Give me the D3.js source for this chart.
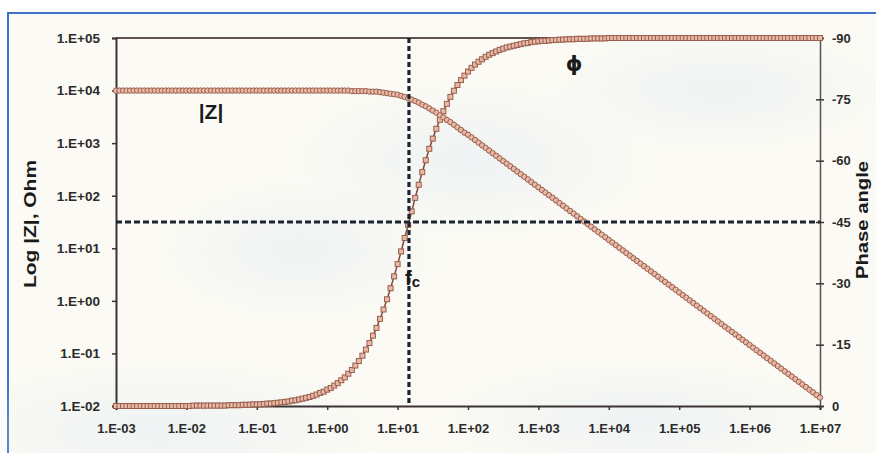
<!DOCTYPE html>
<html>
<head>
<meta charset="utf-8">
<script src="https://cdn.jsdelivr.net/npm/d3@7"></script>
<style>
  body { margin: 0; background: #ffffff; }
  svg { display: block; font-family: "Liberation Sans", Arial, sans-serif; }
  .axis text { font-weight: bold; fill: #2b2b2b; }
</style>
</head>
<body>
<div id="container"></div>
<script>
/* CONSTANTS AND GLOBALS */
const width = 876;
const height = 453;
const margin = { top: 38, right: 56, bottom: 47, left: 116 };

// frequency grid, log10(Hz), 20 points per decade
const logFreq = [
  -3.00,-2.95,-2.90,-2.85,-2.80,-2.75,-2.70,-2.65,-2.60,-2.55,
  -2.50,-2.45,-2.40,-2.35,-2.30,-2.25,-2.20,-2.15,-2.10,-2.05,
  -2.00,-1.95,-1.90,-1.85,-1.80,-1.75,-1.70,-1.65,-1.60,-1.55,
  -1.50,-1.45,-1.40,-1.35,-1.30,-1.25,-1.20,-1.15,-1.10,-1.05,
  -1.00,-0.95,-0.90,-0.85,-0.80,-0.75,-0.70,-0.65,-0.60,-0.55,
  -0.50,-0.45,-0.40,-0.35,-0.30,-0.25,-0.20,-0.15,-0.10,-0.05,
  0.00,0.05,0.10,0.15,0.20,0.25,0.30,0.35,0.40,0.45,0.50,0.55,0.60,0.65,0.70,0.75,0.80,0.85,0.90,0.95,
  1.00,1.05,1.10,1.15,1.20,1.25,1.30,1.35,1.40,1.45,1.50,1.55,1.60,1.65,1.70,1.75,1.80,1.85,1.90,1.95,
  2.00,2.05,2.10,2.15,2.20,2.25,2.30,2.35,2.40,2.45,2.50,2.55,2.60,2.65,2.70,2.75,2.80,2.85,2.90,2.95,
  3.00,3.05,3.10,3.15,3.20,3.25,3.30,3.35,3.40,3.45,3.50,3.55,3.60,3.65,3.70,3.75,3.80,3.85,3.90,3.95,
  4.00,4.05,4.10,4.15,4.20,4.25,4.30,4.35,4.40,4.45,4.50,4.55,4.60,4.65,4.70,4.75,4.80,4.85,4.90,4.95,
  5.00,5.05,5.10,5.15,5.20,5.25,5.30,5.35,5.40,5.45,5.50,5.55,5.60,5.65,5.70,5.75,5.80,5.85,5.90,5.95,
  6.00,6.05,6.10,6.15,6.20,6.25,6.30,6.35,6.40,6.45,6.50,6.55,6.60,6.65,6.70,6.75,6.80,6.85,6.90,6.95,
  7.00
];

// |Z|, log10(Ohm)
const logZ = [
  4.00,4.00,4.00,4.00,4.00,4.00,4.00,4.00,4.00,4.00,
  4.00,4.00,4.00,4.00,4.00,4.00,4.00,4.00,4.00,4.00,
  4.00,4.00,4.00,4.00,4.00,4.00,4.00,4.00,4.00,4.00,
  4.00,4.00,4.00,4.00,4.00,4.00,4.00,4.00,4.00,4.00,
  4.00,4.00,4.00,4.00,4.00,4.00,4.00,4.00,4.00,4.00,
  4.00,4.00,4.00,4.00,4.00,4.00,4.00,4.00,4.00,4.00,
  4.00,4.00,4.00,4.00,4.00,4.00,4.00,3.99,3.99,3.99,3.99,3.99,3.98,3.98,3.98,3.97,3.96,3.95,3.94,3.93,
  3.92,3.90,3.88,3.85,3.83,3.80,3.77,3.73,3.70,3.66,3.62,3.58,3.53,3.49,3.44,3.40,3.35,3.30,3.25,3.20,
  3.16,3.11,3.06,3.01,2.96,2.91,2.86,2.81,2.76,2.71,2.66,2.61,2.56,2.51,2.46,2.41,2.36,2.31,2.26,2.21,
  2.16,2.11,2.06,2.01,1.96,1.91,1.86,1.81,1.76,1.71,1.66,1.61,1.56,1.51,1.46,1.41,1.36,1.31,1.26,1.21,
  1.16,1.11,1.06,1.01,0.96,0.91,0.86,0.81,0.76,0.71,0.66,0.61,0.56,0.51,0.46,0.41,0.36,0.31,0.26,0.21,
  0.16,0.11,0.06,0.01,-0.04,-0.09,-0.14,-0.19,-0.24,-0.29,-0.34,-0.39,-0.44,-0.49,-0.54,-0.59,-0.64,-0.69,-0.74,-0.79,
  -0.84,-0.89,-0.94,-0.99,-1.04,-1.09,-1.14,-1.19,-1.24,-1.29,-1.34,-1.39,-1.44,-1.49,-1.54,-1.59,-1.64,-1.69,-1.74,-1.79,
  -1.84
];

// phase angle, degrees
const phaseDeg = [
  0,0,0,0,0,0,0,0,0,0,
  0,0,0,0,0,0,0,0,0,0,
  0,0,-0.1,-0.1,-0.1,-0.1,-0.1,-0.1,-0.1,-0.1,
  -0.1,-0.1,-0.2,-0.2,-0.2,-0.2,-0.3,-0.3,-0.3,-0.4,
  -0.4,-0.4,-0.5,-0.6,-0.6,-0.7,-0.8,-0.9,-1.0,-1.1,
  -1.3,-1.4,-1.6,-1.8,-2.0,-2.2,-2.5,-2.8,-3.2,-3.5,
  -4.0,-4.4,-5.0,-5.6,-6.3,-7.0,-7.9,-8.8,-9.9,-11.0,-12.3,-13.8,-15.4,-17.2,-19.1,-21.3,-23.6,-26.1,-28.8,-31.7,
  -34.7,-37.8,-41.1,-44.3,-47.6,-50.9,-54.1,-57.2,-60.1,-62.9,-65.4,-67.8,-70.0,-72.1,-73.9,-75.6,-77.1,-78.5,-79.7,-80.8,
  -81.8,-82.7,-83.5,-84.2,-84.8,-85.4,-85.9,-86.3,-86.7,-87.1,-87.4,-87.7,-87.9,-88.1,-88.3,-88.5,-88.7,-88.8,-89.0,-89.1,
  -89.2,-89.3,-89.3,-89.4,-89.5,-89.5,-89.6,-89.6,-89.7,-89.7,-89.7,-89.8,-89.8,-89.8,-89.8,-89.9,-89.9,-89.9,-89.9,-89.9,
  -90,-90,-90,-90,-90,-90,-90,-90,-90,-90,-90,-90,-90,-90,-90,-90,-90,-90,-90,-90,
  -90,-90,-90,-90,-90,-90,-90,-90,-90,-90,-90,-90,-90,-90,-90,-90,-90,-90,-90,-90,
  -90,-90,-90,-90,-90,-90,-90,-90,-90,-90,-90,-90,-90,-90,-90,-90,-90,-90,-90,-90,
  -90
];

// axis ticks
const freqTicks = [1e-3, 1e-2, 1e-1, 1e0, 1e1, 1e2, 1e3, 1e4, 1e5, 1e6, 1e7];
const zTicks = [1e-2, 1e-1, 1e0, 1e1, 1e2, 1e3, 1e4, 1e5];
const phaseTicks = [0, -15, -30, -45, -60, -75, -90];

// cut-off frequency marker
const cutoffFreq = 14.5;
const cutoffPhase = -45;

const points = logFreq.map((lf, i) => ({
  f: Math.pow(10, lf),
  z: Math.pow(10, logZ[i]),
  p: phaseDeg[i]
}));

const sci = d => {
  const e = Math.round(Math.log10(d));
  return "1.E" + (e < 0 ? "-" : "+") + String(Math.abs(e)).padStart(2, "0");
};

// CREATE SVG
const svg = d3.select("#container")
  .append("svg")
  .attr("width", width)
  .attr("height", height);

// background panel with faint blue wash
const defs = svg.append("defs");
const wash = defs.append("radialGradient").attr("id", "wash");
wash.append("stop").attr("offset", "0%").attr("stop-color", "#e4edf3").attr("stop-opacity", 0.55);
wash.append("stop").attr("offset", "100%").attr("stop-color", "#e4edf3").attr("stop-opacity", 0);

svg.append("rect")
  .attr("x", 8).attr("y", 13)
  .attr("width", width).attr("height", height)
  .attr("fill", "#fbfaf4")
  .attr("stroke", "#4170c6")
  .attr("stroke-width", 2);

[[160, 430, 220, 70], [470, 160, 180, 80], [720, 90, 170, 60], [640, 420, 200, 60], [300, 250, 140, 70]]
  .forEach(([cx, cy, rx, ry]) => {
    svg.append("ellipse")
      .attr("cx", cx).attr("cy", cy).attr("rx", rx).attr("ry", ry)
      .attr("fill", "url(#wash)");
  });

/* SCALES */
const xScale = d3.scaleLog()
  .domain([1e-3, 1e7])
  .range([margin.left, width - margin.right]);

const yZ = d3.scaleLog()
  .domain([1e-2, 1e5])
  .range([height - margin.bottom, margin.top]);

const yP = d3.scaleLinear()
  .domain([0, -90])
  .range([height - margin.bottom, margin.top]);

const axisColor = "#3b3434";

// top frame line
svg.append("line")
  .attr("x1", margin.left).attr("x2", width - margin.right)
  .attr("y1", margin.top).attr("y2", margin.top)
  .attr("stroke", "#5e5150").attr("stroke-width", 2);

// AXES
const xAxis = svg.append("g")
  .attr("class", "axis")
  .attr("transform", `translate(0,${height - margin.bottom})`)
  .call(d3.axisBottom(xScale).tickValues(freqTicks).tickFormat(sci).tickSize(4).tickPadding(14));

const yAxis = svg.append("g")
  .attr("class", "axis")
  .attr("transform", `translate(${margin.left},0)`)
  .call(d3.axisLeft(yZ).tickValues(zTicks).tickFormat(sci).tickSize(4).tickPadding(12));

const pAxis = svg.append("g")
  .attr("class", "axis")
  .attr("transform", `translate(${width - margin.right},0)`)
  .call(d3.axisRight(yP).tickValues(phaseTicks).tickFormat(d => String(d)).tickSize(4).tickPadding(8));

[xAxis, yAxis, pAxis].forEach(g => {
  g.select(".domain").attr("stroke", axisColor).attr("stroke-width", 2);
  g.selectAll(".tick line").attr("stroke", axisColor).attr("stroke-width", 1.5);
  g.selectAll("text").style("font-size", "13px");
});
yAxis.selectAll("text").style("font-size", "13.5px");
pAxis.select(".domain").attr("stroke", "#5a5050").attr("stroke-width", 1.5);
// phase ticks cross the axis
pAxis.selectAll(".tick line").attr("x1", -4).attr("x2", 4);

// CURVES
const lineColor = "#7e4a3d";
const markFill = "#e8b9a6";
const markStroke = "#9a5d4c";

const zLine = d3.line().x(d => xScale(d.f)).y(d => yZ(d.z));
const pLine = d3.line().x(d => xScale(d.f)).y(d => yP(d.p));

svg.append("path")
  .datum(points)
  .attr("d", pLine)
  .attr("fill", "none")
  .attr("stroke", lineColor)
  .attr("stroke-width", 1.5);

svg.selectAll("rect.phase")
  .data(points)
  .join("rect")
  .attr("class", "phase")
  .attr("x", d => xScale(d.f) - 2.5)
  .attr("y", d => yP(d.p) - 2.5)
  .attr("width", 5)
  .attr("height", 5)
  .attr("fill", markFill)
  .attr("stroke", markStroke)
  .attr("stroke-width", 1);

svg.append("path")
  .datum(points)
  .attr("d", zLine)
  .attr("fill", "none")
  .attr("stroke", lineColor)
  .attr("stroke-width", 1.5);

svg.selectAll("circle.z")
  .data(points)
  .join("circle")
  .attr("class", "z")
  .attr("cx", d => xScale(d.f))
  .attr("cy", d => yZ(d.z))
  .attr("r", 2.7)
  .attr("fill", markFill)
  .attr("stroke", markStroke)
  .attr("stroke-width", 1);

// DASHED GUIDES: cut-off frequency and -45 degrees
const dashColor = "#1c2433";
svg.append("line")
  .attr("x1", xScale(cutoffFreq)).attr("x2", xScale(cutoffFreq))
  .attr("y1", margin.top).attr("y2", height - margin.bottom)
  .attr("stroke", dashColor).attr("stroke-width", 3.2)
  .attr("stroke-dasharray", "5,3");

svg.append("line")
  .attr("x1", margin.left).attr("x2", width - margin.right)
  .attr("y1", yP(cutoffPhase)).attr("y2", yP(cutoffPhase))
  .attr("stroke", dashColor).attr("stroke-width", 3)
  .attr("stroke-dasharray", "6,3");

// LABELS
svg.append("text")
  .attr("x", 211).attr("y", 119)
  .attr("text-anchor", "middle")
  .style("font-size", "21px").style("font-weight", "bold").attr("fill", "#1a1a1a")
  .text("|Z|");

svg.append("text")
  .attr("x", 574).attr("y", 71)
  .attr("text-anchor", "middle")
  .style("font-family", "DejaVu Sans").style("font-size", "21px").style("font-weight", "bold").attr("fill", "#1a1a1a")
  .text("ϕ");

const fc = svg.append("text")
  .attr("x", 405).attr("y", 285)
  .style("font-size", "20px").style("font-weight", "bold").attr("fill", "#1a1a1a");
fc.append("tspan").text("f");
fc.append("tspan").attr("dy", 2).style("font-size", "15px").text("c");

svg.append("text")
  .attr("transform", "translate(36,224) rotate(-90)")
  .attr("text-anchor", "middle")
  .attr("textLength", 128).attr("lengthAdjust", "spacingAndGlyphs")
  .style("font-size", "16px").style("font-weight", "bold").attr("fill", "#1a1a1a")
  .text("Log |Z|, Ohm");

svg.append("text")
  .attr("transform", "translate(868,220) rotate(-90)")
  .attr("text-anchor", "middle")
  .attr("textLength", 118).attr("lengthAdjust", "spacingAndGlyphs")
  .style("font-size", "16px").style("font-weight", "bold").attr("fill", "#1a1a1a")
  .text("Phase angle");
</script>
</body>
</html>
